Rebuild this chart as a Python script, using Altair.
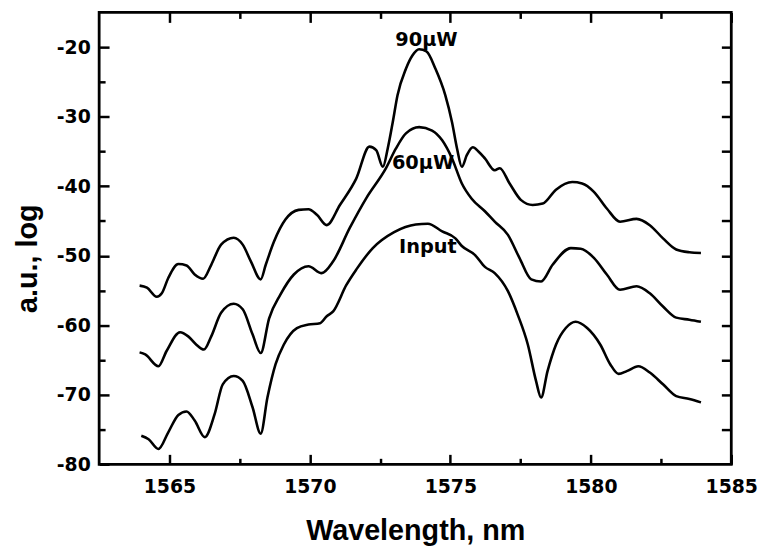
import altair as alt
import pandas as pd

# ---- data ----
wl_90 = [1563.94, 1564.20, 1564.55, 1564.73, 1564.96, 1565.32, 1565.61, 1565.90, 1566.20, 1566.49,
         1566.84, 1567.29, 1567.61, 1567.90, 1568.25, 1568.43, 1568.72, 1569.13, 1569.60, 1569.95,
         1570.25, 1570.60, 1571.07, 1571.65, 1572.12, 1572.36, 1572.60, 1572.77, 1572.95, 1573.12,
         1573.42, 1573.65, 1573.89, 1574.15, 1574.47, 1574.82, 1575.06, 1575.24, 1575.41, 1575.59,
         1575.80, 1576.00, 1576.23, 1576.58, 1576.76, 1577.11, 1577.52, 1577.93, 1578.29, 1578.76,
         1579.34, 1579.69, 1580.11, 1580.57, 1581.04, 1581.63, 1582.10, 1582.57, 1583.04, 1583.51,
         1583.92]
val_90 = [-54.3, -54.6, -55.9, -55.4, -53.2, -51.2, -51.4, -52.7, -53.3, -51.3,
          -48.4, -47.4, -48.4, -50.8, -53.4, -51.3, -48.0, -44.8, -43.4, -43.3,
          -44.1, -45.6, -42.7, -38.9, -34.3, -34.8, -37.2, -34.6, -30.8, -26.9,
          -23.1, -21.2, -20.3, -20.6, -23.1, -26.9, -30.8, -34.6, -37.2, -35.5,
          -34.4, -35.0, -36.0, -37.7, -37.4, -39.6, -42.0, -42.7, -42.5, -40.5,
          -39.4, -39.6, -40.8, -43.2, -45.1, -44.7, -45.6, -47.5, -49.1, -49.5,
          -49.6]

wl_60 = [1563.94, 1564.14, 1564.61, 1564.90, 1565.38, 1565.67, 1565.96, 1566.23, 1566.49, 1566.84,
         1567.29, 1567.61, 1567.96, 1568.25, 1568.55, 1568.95, 1569.43, 1569.95, 1570.42, 1570.83,
         1571.42, 1572.01, 1572.71, 1573.06, 1573.42, 1573.89, 1574.35, 1574.71, 1575.06, 1575.41,
         1575.76, 1576.23, 1576.58, 1577.05, 1577.46, 1577.88, 1578.23, 1578.64, 1579.29, 1579.64,
         1580.11, 1580.57, 1581.04, 1581.63, 1582.10, 1582.57, 1583.04, 1583.51, 1583.92]
val_60 = [-63.9, -64.2, -65.9, -63.7, -61.0, -61.6, -62.8, -63.5, -61.6, -58.2,
          -56.9, -57.7, -61.3, -64.0, -59.0, -55.6, -52.7, -51.5, -52.5, -50.8,
          -46.0, -41.7, -37.4, -34.6, -32.4, -31.5, -32.0, -33.4, -36.0, -39.6,
          -41.8, -43.6, -45.1, -47.0, -50.3, -53.4, -53.7, -51.3, -48.9, -49.0,
          -50.3, -52.7, -54.9, -54.4, -55.4, -57.3, -58.9, -59.2, -59.5]

wl_in = [1564.00, 1564.26, 1564.61, 1564.96, 1565.32, 1565.61, 1565.90, 1566.26, 1566.61, 1566.90,
         1567.29, 1567.61, 1567.96, 1568.25, 1568.49, 1568.78, 1569.07, 1569.54, 1569.95, 1570.36,
         1570.60, 1570.83, 1571.30, 1571.65, 1572.24, 1573.00, 1573.77, 1574.20, 1574.71, 1575.18,
         1575.41, 1575.88, 1576.23, 1576.58, 1577.05, 1577.40, 1577.76, 1578.05, 1578.23, 1578.46,
         1578.76, 1579.11, 1579.46, 1579.87, 1580.34, 1580.69, 1580.99, 1581.28, 1581.69, 1582.10,
         1582.57, 1583.04, 1583.51, 1583.92]
val_in = [-75.9, -76.4, -77.8, -75.4, -72.9, -72.4, -73.7, -76.1, -72.8, -68.5,
          -67.3, -68.0, -71.8, -75.6, -70.4, -65.6, -62.8, -60.4, -59.9, -59.7,
          -58.7, -58.0, -54.2, -52.0, -48.9, -46.6, -45.5, -45.4, -46.5, -47.5,
          -48.6, -49.9, -51.6, -52.5, -55.1, -58.5, -62.8, -68.0, -70.4, -66.6,
          -62.8, -60.4, -59.5, -60.4, -62.8, -65.6, -67.0, -66.6, -65.9, -66.8,
          -68.5, -70.2, -70.6, -71.1]

series_names = ["90\u00b5W", "60\u00b5W", "Input"]

label_text = ["90\u00b5W", "60\u00b5W", "Input"]
label_x = [1574.15, 1574.03, 1574.20]
label_y = [-18.9, -36.6, -48.8]

x_major = [1565, 1570, 1575, 1580, 1585]
x_minor = [1567.5, 1572.5, 1577.5, 1582.5]
y_major = [-80, -70, -60, -50, -40, -30, -20]
y_minor = [-75, -65, -55, -45, -35, -25]
y_all = [-75, -70, -65, -60, -55, -50, -45, -40, -35, -30, -25, -20]

# ---- tables ----
rows = []
for name, xs_, ys_ in zip(series_names, [wl_90, wl_60, wl_in], [val_90, val_60, val_in]):
    for a, b in zip(xs_, ys_):
        rows.append({"series": name, "wl": a, "val": b})
df = pd.DataFrame(rows)
lbl = pd.DataFrame({"t": label_text, "x": label_x, "y": label_y})

xscale = alt.Scale(domain=[1562.5, 1585], nice=False, zero=False)
yscale = alt.Scale(domain=[-80, -15], nice=False, zero=False)

TICK_FONT = "DejaVu Sans"
TITLE_FONT = "Liberation Sans"


def tick_axis(orient, values, size, **kw):
    base = dict(orient=orient, values=values, offset=-size, tickSize=size,
                tickWidth=2.5, tickColor="black", domain=False, grid=False,
                labels=False)
    base.update(kw)
    return alt.Axis(**base)


label_style = dict(labels=True, labelFont=TICK_FONT, labelFontSize=19,
                   labelFontWeight="bold", labelColor="black",
                   labelExpr="datum.value + ''", labelFlush=False,
                   labelOverlap=False)

x_main_axis = tick_axis("bottom", x_major, 10, labelPadding=13,
                        titleFont=TITLE_FONT, titleFontSize=29,
                        titleFontWeight="bold", titleColor="black",
                        titlePadding=21, **label_style)
y_main_axis = tick_axis("left", y_major, 10, labelPadding=9,
                        titleFont=TITLE_FONT, titleFontSize=29,
                        titleFontWeight="bold", titleColor="black",
                        titlePadding=14, titleY=248, **label_style)

main = alt.Chart(df).mark_line(color="black", strokeWidth=2.6, interpolate="monotone").encode(
    x=alt.X("wl:Q", scale=xscale, axis=x_main_axis, title="Wavelength, nm"),
    y=alt.Y("val:Q", scale=yscale, axis=y_main_axis, title="a.u., log"),
    detail="series:N",
)

ghost = alt.Chart(df).mark_line(strokeOpacity=0)

layer_minor = ghost.encode(
    x=alt.X("wl:Q", scale=xscale, axis=tick_axis("bottom", x_minor, 6), title=None),
    y=alt.Y("val:Q", scale=yscale, axis=tick_axis("left", y_minor, 6), title=None),
    detail="series:N",
)
layer_opp = ghost.encode(
    x=alt.X("wl:Q", scale=xscale, axis=tick_axis("top", x_major, 10), title=None),
    y=alt.Y("val:Q", scale=yscale, axis=tick_axis("right", y_all, 10), title=None),
    detail="series:N",
)
layer_opp_minor = ghost.encode(
    x=alt.X("wl:Q", scale=xscale, axis=tick_axis("top", x_minor, 6), title=None),
    y=alt.Y("val:Q", scale=yscale, axis=None),
    detail="series:N",
)

labels = alt.Chart(lbl).mark_text(font=TICK_FONT, fontWeight="bold", fontSize=19.5,
                                  color="black", align="center", baseline="middle").encode(
    x=alt.X("x:Q", scale=xscale, axis=None),
    y=alt.Y("y:Q", scale=yscale, axis=None),
    text="t:N",
)

chart = alt.layer(main, layer_minor, layer_opp, layer_opp_minor, labels).resolve_axis(
    x="independent", y="independent"
).properties(
    width=638,
    height=456,
    autosize=alt.AutoSizeParams(type="none"),
    padding={"left": 92, "top": 2, "right": 30, "bottom": 82},
    background="white",
).configure_view(stroke="black", strokeWidth=2.8)

chart.save("out.html", embed_options={"renderer": "svg", "actions": False})
